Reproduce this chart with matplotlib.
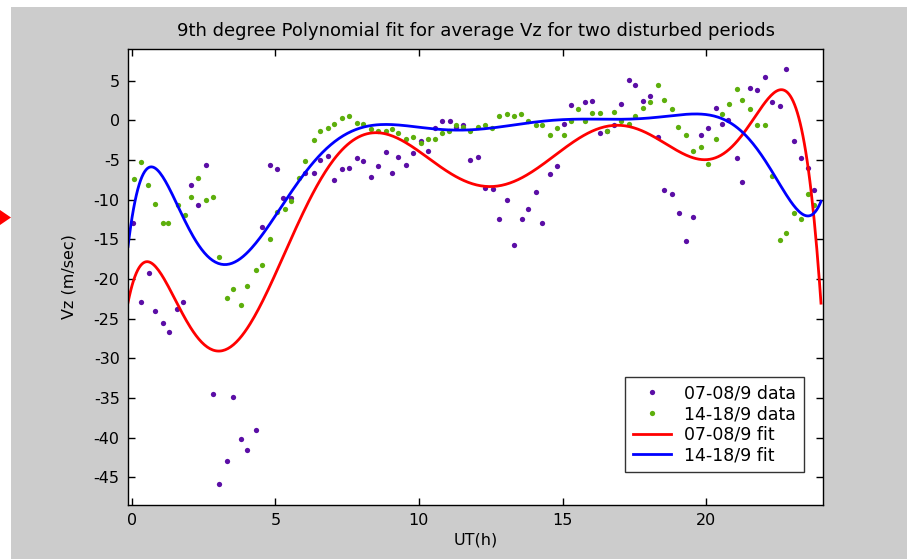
import numpy as np
import matplotlib.pyplot as plt
from matplotlib.patches import Rectangle, Polygon

plt.rcParams['font.family'] = ['DejaVu Sans']
plt.rcParams['axes.unicode_minus'] = False

# 07-08/9 average Vz (purple points)
t_a = [0.06, 0.31, 0.59, 0.80, 1.08, 1.31, 1.59, 1.80, 2.08, 2.31, 2.59, 2.82,
       3.03, 3.31, 3.54, 3.82, 4.03, 4.31, 4.54, 4.82, 5.05, 5.28, 5.56, 6.05,
       6.33, 6.56, 6.84, 7.05, 7.33, 7.56, 7.84, 8.07, 8.33, 8.56, 8.84, 9.07,
       9.28, 9.56, 9.79, 10.07, 10.30, 10.56, 10.79, 11.07, 11.30, 11.55, 11.79,
       12.04, 12.30, 12.58, 12.79, 13.07, 13.30, 13.58, 13.81, 14.06, 14.30,
       14.57, 14.81, 15.04, 15.30, 15.80, 16.04, 16.32, 16.55, 16.80, 17.04,
       17.32, 17.53, 17.80, 18.03, 18.31, 18.52, 18.80, 19.04, 19.31, 19.55,
       19.83, 20.06, 20.33, 20.54, 20.77, 21.06, 21.26, 21.54, 21.78, 22.06,
       22.29, 22.56, 22.77, 23.05, 23.29, 23.54, 23.77]
vz_a = [-12.9, -22.9, -19.3, -24.1, -25.5, -26.7, -23.8, -22.9, -8.2, -10.7, -5.6, -34.5,
        -45.8, -42.9, -34.9, -40.2, -41.6, -39.1, -13.4, -5.6, -6.1, -9.8, -9.8, -6.6,
        -6.6, -5.0, -4.5, -7.5, -6.1, -6.0, -4.8, -5.1, -7.1, -5.8, -4.0, -6.6,
        -4.6, -5.6, -4.1, -2.6, -3.8, -0.9, -0.1, -0.1, -0.8, -0.6, -5.0,
        -4.6, -8.5, -8.7, -12.4, -10.0, -15.7, -12.4, -11.2, -9.0, -13.0,
        -6.8, -5.8, -0.4, 1.9, 2.3, 2.4, -1.6, -1.4, -0.6, 2.1,
        5.1, 4.5, 2.4, 3.1, -2.1, -8.8, -9.3, -11.7, -15.2, -12.2,
        -1.9, -0.9, 1.6, -0.4, 0.0, -4.8, -7.8, 4.1, 3.8, 5.5,
        2.3, 1.8, 6.5, -2.6, -4.8, -6.0, -8.8]

# 14-18/9 average Vz (green points)
t_b = [0.08, 0.31, 0.57, 0.80, 1.08, 1.28, 1.61, 1.85, 2.08, 2.31, 2.59, 2.82,
       3.03, 3.31, 3.54, 3.82, 4.03, 4.31, 4.54, 4.82, 5.05, 5.33, 5.56, 5.82,
       6.05, 6.33, 6.56, 6.82, 7.05, 7.33, 7.56, 7.84, 8.07, 8.33, 8.56, 8.84,
       9.07, 9.28, 9.56, 9.79, 10.07, 10.30, 10.56, 10.79, 11.05, 11.28, 11.55,
       11.79, 12.04, 12.30, 12.55, 12.79, 13.07, 13.30, 13.57, 13.81, 14.06,
       14.30, 14.57, 14.81, 15.04, 15.30, 15.53, 15.80, 16.04, 16.32, 16.55,
       16.80, 17.04, 17.32, 17.53, 17.80, 18.03, 18.31, 18.52, 18.80, 19.03,
       19.31, 19.55, 19.83, 20.06, 20.33, 20.54, 20.78, 21.06, 21.26, 21.54,
       21.78, 22.06, 22.29, 22.56, 22.77, 23.05, 23.29, 23.56, 23.77]
vz_b = [-7.4, -5.3, -8.2, -10.5, -12.9, -12.9, -10.7, -11.9, -9.7, -7.3, -10.0, -9.7,
        -17.2, -22.4, -21.3, -23.3, -20.9, -18.9, -18.2, -14.9, -11.5, -11.2, -10.2, -7.3,
        -5.1, -2.5, -1.4, -0.9, -0.4, 0.3, 0.6, -0.3, -0.4, -1.1, -1.3, -1.3,
        -1.1, -1.6, -2.4, -2.1, -2.8, -2.4, -2.3, -1.6, -1.3, -0.6, -0.8,
        -1.3, -0.8, -0.6, -0.9, 0.6, 0.8, 0.6, 0.8, -0.1, -0.6,
        -0.6, -1.9, -0.9, -1.9, -0.1, 1.4, -0.1, 0.9, 0.9, -1.3,
        1.1, -0.1, -0.4, 0.6, 1.6, 2.3, 4.5, 2.6, 1.4, -0.8,
        -1.9, -3.8, -3.3, -5.5, -2.4, 0.8, 2.1, 4.0, 2.6, 1.4,
        -0.6, -0.6, -7.0, -15.1, -14.2, -11.7, -12.4, -9.3, -10.7]

x_ticks = [0, 5, 10, 15, 20]
y_ticks = [-45, -40, -35, -30, -25, -20, -15, -10, -5, 0, 5]
x_lim = (-0.13, 24.07)
y_lim = (-48.5, 9.0)

# 9th degree polynomial fits
fit_a = np.polynomial.Polynomial.fit(t_a, vz_a, 9)
fit_b = np.polynomial.Polynomial.fit(t_b, vz_b, 9)
t_fit = np.linspace(x_lim[0], 24.0, 500)

W, H = 913, 559
fig = plt.figure(figsize=(W / 100, H / 100), dpi=100, facecolor='#cccccc')

# white page edges and the little red arrow on the left
fig.patches.append(Rectangle((0, 0), 11 / W, 1, transform=fig.transFigure,
                             facecolor='white', edgecolor='none', zorder=-1))
fig.patches.append(Rectangle((0, 1 - 7 / H), 1, 7 / H, transform=fig.transFigure,
                             facecolor='white', edgecolor='none', zorder=-1))
fig.patches.append(Rectangle((907 / W, 0), 6 / W, 1, transform=fig.transFigure,
                             facecolor='white', edgecolor='none', zorder=-1))
fig.patches.append(Polygon([(0, 1 - 210 / H), (11 / W, 1 - 217.5 / H), (0, 1 - 225 / H)],
                           closed=True, transform=fig.transFigure,
                           facecolor='#ff0000', edgecolor='none'))

ax = fig.add_axes([128 / W, 1 - 505 / H, 695 / W, 456 / H])
ax.set_facecolor('white')

purple = '#5b0ea6'
green = '#5daf0c'
ax.plot(t_a, vz_a, 'o', color=purple, ms=3.8, mew=0, label='07-08/9 data')
ax.plot(t_b, vz_b, 'o', color=green, ms=3.8, mew=0, label='14-18/9 data')
ax.plot(t_fit, fit_a(t_fit), color='#ff0000', lw=2, label='07-08/9 fit')
ax.plot(t_fit, fit_b(t_fit), color='#0000ff', lw=2, label='14-18/9 fit')

ax.set_xlim(*x_lim)
ax.set_ylim(*y_lim)
ax.set_xticks(x_ticks)
ax.set_yticks(y_ticks)
ax.tick_params(direction='in', length=5, width=1, top=True, right=True,
               labelsize=11.5, pad=6, colors='black')
for s in ax.spines.values():
    s.set_linewidth(1)

ax.set_title('9th degree Polynomial fit for average Vz for two disturbed periods',
             fontsize=13, pad=9)
ax.set_xlabel('UT(h)', fontsize=11.5, labelpad=3)
ax.set_ylabel('Vz (m/sec)', fontsize=11.5, labelpad=12)

leg = ax.legend(loc='lower right', bbox_to_anchor=(0.973, 0.072), borderaxespad=0,
                fontsize=12.5, frameon=True, fancybox=False, edgecolor='black',
                handlelength=2.2, handletextpad=0.75, labelspacing=0.15,
                borderpad=0.45)
leg.get_frame().set_linewidth(1)

fig.savefig('out.png', dpi=100, facecolor=fig.get_facecolor())
